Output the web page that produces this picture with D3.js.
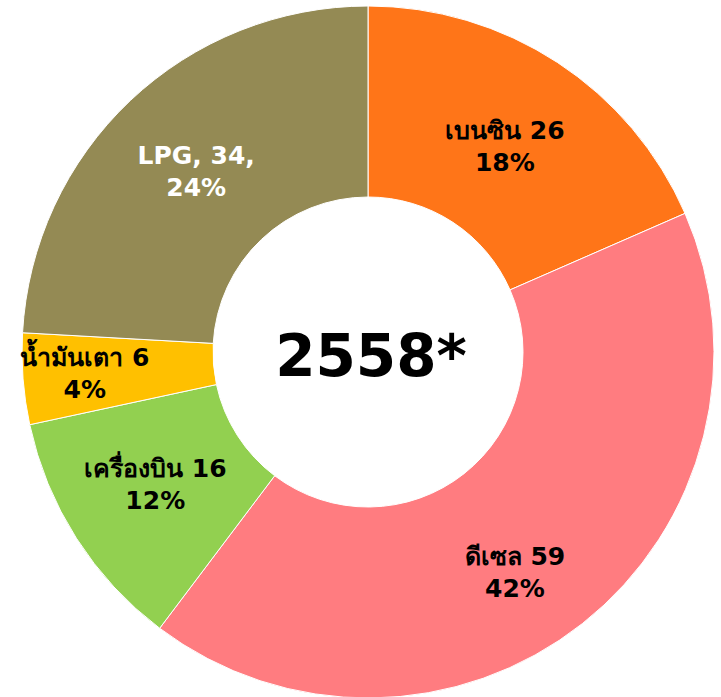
<!DOCTYPE html>
<html>
<head>
<meta charset="utf-8">
<script src="https://cdn.jsdelivr.net/npm/d3@7"></script>
<style>
  body { margin: 0; background: #fff; }
  text { font-family: Tahoma, "DejaVu Sans", "Noto Sans", sans-serif; font-weight: bold; }
</style>
</head>
<body>
<svg id="chart"></svg>
<script>
// data
const categories = ["เบนซิน", "ดีเซล", "เครื่องบิน", "น้ำมันเตา", "LPG"];
const values = [26, 59, 16, 6, 34];
const percents = ["18%", "42%", "12%", "4%", "24%"];
const colors = ["#FF7518", "#FF7C80", "#92D050", "#FFC000", "#948A54"];
const centerTitle = "2558*";

const width = 721, height = 697;
const cx = 368, cy = 352;
const outerR = 346, innerR = 155;

// label nudges from the arc centroid (px)
const labelShift = [[0, 4], [-8, 25], [-2, -2], [-34, 3], [0, 2]];

const svg = d3.select("#chart").attr("width", width).attr("height", height);
const g = svg.append("g").attr("transform", `translate(${cx},${cy})`);

const rows = categories.map((c, i) => ({ name: c, value: values[i], pct: percents[i], color: colors[i], i }));

const pie = d3.pie().sort(null).value(d => d.value);
const arc = d3.arc().innerRadius(innerR).outerRadius(outerR);
const labelArc = d3.arc().innerRadius(250).outerRadius(250);

const arcs = pie(rows);

g.selectAll("path")
  .data(arcs)
  .join("path")
    .attr("d", arc)
    .attr("fill", d => d.data.color)
    .attr("stroke", "#fff")
    .attr("stroke-width", 1);

const lbl = g.selectAll("text.lbl")
  .data(arcs)
  .join("text")
    .attr("class", "lbl")
    .attr("text-anchor", "middle")
    .attr("font-size", 25)
    .attr("fill", d => d.data.name === "LPG" ? "#fff" : "#000")
    .attr("transform", d => {
      const c = labelArc.centroid(d);
      const s = labelShift[d.data.i];
      return `translate(${c[0] + s[0]},${c[1] + s[1]})`;
    });

lbl.append("tspan")
  .attr("x", 0).attr("y", -8)
  .text(d => d.data.name === "LPG" ? `${d.data.name}, ${d.data.value},` : `${d.data.name} ${d.data.value}`);
lbl.append("tspan")
  .attr("x", 0).attr("y", 24)
  .text(d => d.data.pct);

g.append("text")
  .attr("text-anchor", "middle")
  .attr("x", 3)
  .attr("y", 24)
  .attr("font-size", 58)
  .attr("fill", "#000")
  .text(centerTitle);
</script>
</body>
</html>
